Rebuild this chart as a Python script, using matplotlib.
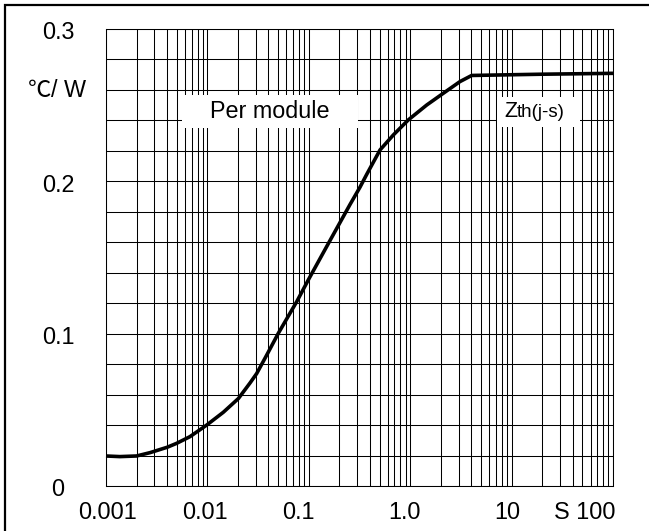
import matplotlib
matplotlib.use('Agg')
import matplotlib.pyplot as plt
import numpy as np
from matplotlib.ticker import LogLocator, NullFormatter
from matplotlib.patches import Rectangle

plt.rcParams['font.family'] = ['Liberation Sans', 'Noto Sans CJK JP', 'DejaVu Sans']

# Zth(j-s) curve
t = [0.001, 0.00137, 0.002, 0.00272, 0.004, 0.00497, 0.00673, 0.00984,
     0.01435, 0.0202, 0.0263, 0.0306, 0.0385, 0.0501, 0.076, 0.0989, 0.162,
     0.255, 0.32, 0.372, 0.504, 0.681, 0.957, 1.455, 2.12, 3.1, 4.04, 19.0,
     100.0]
zth = [0.0197, 0.0193, 0.0197, 0.0219, 0.0254, 0.028, 0.0324, 0.040,
       0.0484, 0.0574, 0.0676, 0.0738, 0.086, 0.1003, 0.121, 0.1353, 0.1612,
       0.1848, 0.1962, 0.2045, 0.2206, 0.2304, 0.2403, 0.2501, 0.2578,
       0.2655, 0.2695, 0.2703, 0.2709]

xtick_labels = ['0.001', '0.01', '0.1', '1.0', '10', 'S 100']
ytick_vals = [0, 0.1, 0.2, 0.3]
ytick_labels = ['0', '0.1', '0.2', '0.3']

W, H = 649, 531
fig = plt.figure(figsize=(W / 100, H / 100), dpi=100)
ax = fig.add_axes([106 / W, 45 / H, 507 / W, 457 / H])

ax.set_xscale('log')
ax.set_xlim(0.001, 100)
ax.set_ylim(0, 0.3)

ax.xaxis.set_major_locator(LogLocator(base=10, numticks=10))
ax.xaxis.set_minor_locator(LogLocator(base=10, subs=np.arange(2, 10), numticks=50))
ax.xaxis.set_major_formatter(NullFormatter())
ax.xaxis.set_minor_formatter(NullFormatter())
ax.set_yticks(np.arange(0, 0.3001, 0.02))
ax.set_yticklabels([])
ax.tick_params(which='both', length=0)
ax.grid(True, which='both', color='black', lw=0.75)
for s in ax.spines.values():
    s.set_color('black')
    s.set_linewidth(0.75)

ax.plot(t, zth, color='black', lw=2.6, solid_capstyle='butt',
        solid_joinstyle='round', clip_on=False, zorder=5)

fs = 16.8
# label boxes covering the grid
ax.add_patch(Rectangle((0.15, 0.7834), 0.347, 0.0722, transform=ax.transAxes,
                       fc='white', ec='none', zorder=3))
ax.text(0.3235, 0.8184, 'Per module', transform=ax.transAxes, ha='center',
        va='center', fontsize=fs, zorder=6)
ax.add_patch(Rectangle((0.771, 0.7856), 0.164, 0.0654, transform=ax.transAxes,
                       fc='white', ec='none', zorder=3))
ax.text(0.786, 0.8074, 'Z', transform=ax.transAxes, ha='left', va='baseline',
        fontsize=15.5, zorder=6)
ax.text(0.8107, 0.8074, 'th(j-s)', transform=ax.transAxes, ha='left',
        va='baseline', fontsize=13.5, zorder=6)

# tick labels
xlab_px = [108, 205, 298, 405, 507, 585]
for px, lab in zip(xlab_px, xtick_labels):
    ax.text((px - 106) / 507, -0.059, lab, transform=ax.transAxes,
            ha='center', va='center', fontsize=fs)
for v, lab in zip(ytick_vals, ytick_labels):
    ax.annotate(lab, (-0.0947, v), xycoords=ax.get_yaxis_transform(),
                xytext=(0, -4), textcoords='offset pixels',
                ha='center', va='center', fontsize=fs)
ax.text(-0.1538, 0.2554, '℃', transform=ax.get_yaxis_transform(),
        ha='left', va='baseline', fontsize=fs, family='Noto Sans CJK JP')
ax.text(-0.1085, 0.2554, '/ W', transform=ax.get_yaxis_transform(),
        ha='left', va='baseline', fontsize=fs)

# outer frame (only left and top visible)
fig.add_artist(Rectangle((5 / W, -0.1), 1.2, (H - 5) / H + 0.1,
                         transform=fig.transFigure, fill=False,
                         ec='black', lw=1.6))

plt.savefig('out.png', dpi=100)
